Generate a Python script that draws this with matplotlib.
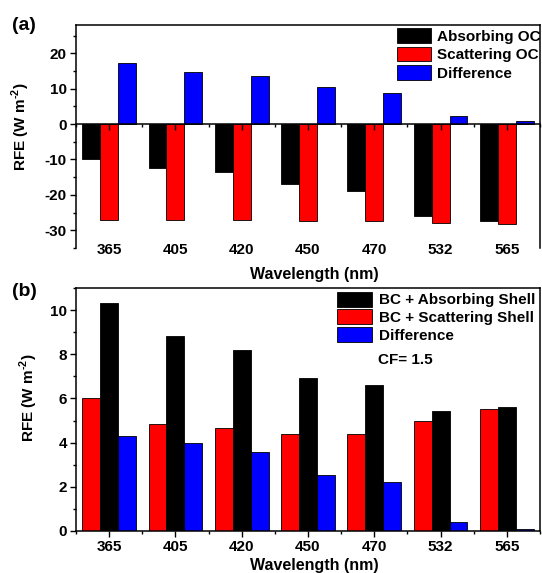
import numpy as np
import matplotlib
matplotlib.use("Agg")
import matplotlib.pyplot as plt
from matplotlib.ticker import MultipleLocator

plt.rcParams['font.family'] = ['Liberation Sans', 'DejaVu Sans']
plt.rcParams['font.weight'] = 'bold'
plt.rcParams['axes.labelweight'] = 'bold'
plt.rcParams['axes.unicode_minus'] = False
plt.rcParams['mathtext.fontset'] = 'custom'
plt.rcParams['mathtext.rm'] = 'Liberation Sans:bold'
plt.rcParams['mathtext.bf'] = 'Liberation Sans:bold'

wavelengths = ["365", "405", "420", "450", "470", "532", "565"]

# panel (a): organic coating
absorbing_oc = [-9.9, -12.4, -13.6, -16.9, -18.8, -25.9, -27.3]
scattering_oc = [-27.1, -27.2, -27.2, -27.4, -27.4, -27.9, -28.1]
diff_a = [17.4, 14.8, 13.6, 10.5, 8.7, 2.2, 0.85]

# panel (b): BC core with shell, CF = 1.5
bc_absorbing = [10.33, 8.85, 8.22, 6.93, 6.63, 5.41, 5.60]
bc_scattering = [6.03, 4.86, 4.64, 4.38, 4.38, 5.00, 5.54]
diff_b = [4.29, 3.96, 3.56, 2.52, 2.22, 0.39, 0.06]

x = np.arange(len(wavelengths))
w = 0.27
ek = dict(edgecolor='black', linewidth=0.6)
ylab = 'RFE (W m$^{\\text{-2}}$)'

fig = plt.figure(figsize=(5.42, 5.73), dpi=100)
axa = fig.add_axes([0.1402, 0.5672, 0.8561, 0.3892])
axb = fig.add_axes([0.1402, 0.0738, 0.8561, 0.4231])

# ---- (a)
ba = axa.bar(x - w, absorbing_oc, w, color='black', label='Absorbing OC', **ek)
bs = axa.bar(x, scattering_oc, w, color='red', label='Scattering OC', **ek)
bd = axa.bar(x + w, diff_a, w, color='blue', label='Difference', **ek)
axa.set_xlim(-0.5, 6.5)
axa.set_ylim(-35, 28)
axa.spines['bottom'].set_position(('data', 0))
axa.spines['bottom'].set_zorder(5)
axa.set_xticks(x)
axa.set_xticklabels([])
axa.xaxis.set_minor_locator(MultipleLocator(1, offset=0.5))
axa.tick_params(axis='x', which='major', direction='out', length=4, width=1)
axa.tick_params(axis='x', which='minor', direction='out', length=2.5, width=1)
sec = axa.secondary_xaxis(0.0)
sec.set_xticks(x, wavelengths)
sec.tick_params(length=0, pad=-3.5, labelsize=11)
sec.spines['bottom'].set_visible(False)
for lab in sec.get_xticklabels():
    lab.set_fontweight('bold')
axa.yaxis.set_major_locator(MultipleLocator(10))
axa.yaxis.set_minor_locator(MultipleLocator(5))
axa.tick_params(axis='y', which='major', direction='out', length=4, width=1, pad=2.5, labelsize=11)
axa.tick_params(axis='y', which='minor', direction='out', length=2.5, width=1)
axa.set_ylabel(ylab, fontsize=11)
axa.yaxis.set_label_coords(-0.095, 0.544)
axa.set_xlabel('Wavelength (nm)', fontsize=11.5)
axa.xaxis.set_label_coords(0.514, -0.084)
for sp in axa.spines.values():
    sp.set_linewidth(1.1)
axa.legend(handles=[ba, bs, bd], loc='upper left', bbox_to_anchor=(0.733, 0.951),
           bbox_transform=fig.transFigure, frameon=False, borderpad=0, borderaxespad=0,
           handlelength=2.2, handleheight=1.1, labelspacing=0.2, handletextpad=0.4,
           prop={'weight': 'bold', 'size': 11})

# ---- (b)
cs = axb.bar(x - w, bc_scattering, w, color='red', label='BC + Scattering Shell', **ek)
ca = axb.bar(x, bc_absorbing, w, color='black', label='BC + Absorbing Shell', **ek)
cd = axb.bar(x + w, diff_b, w, color='blue', label='Difference', **ek)
axb.set_xlim(-0.5, 6.5)
axb.set_ylim(0, 11)
axb.set_xticks(x, wavelengths)
axb.xaxis.set_minor_locator(MultipleLocator(1, offset=0.5))
axb.tick_params(axis='x', which='major', direction='out', length=4, width=1, labelsize=11, pad=3)
axb.tick_params(axis='x', which='minor', direction='out', length=2.5, width=1)
axb.yaxis.set_major_locator(MultipleLocator(2))
axb.yaxis.set_minor_locator(MultipleLocator(1))
axb.tick_params(axis='y', which='major', direction='out', length=4, width=1, pad=2.5, labelsize=11)
axb.tick_params(axis='y', which='minor', direction='out', length=2.5, width=1)
axb.set_ylabel(ylab, fontsize=11)
axb.yaxis.set_label_coords(-0.078, 0.549)
axb.set_xlabel('Wavelength (nm)', fontsize=11.5)
axb.xaxis.set_label_coords(0.514, -0.112)
for sp in axb.spines.values():
    sp.set_linewidth(1.1)
axb.legend(handles=[ca, cs, cd], loc='upper left', bbox_to_anchor=(0.621, 0.491),
           bbox_transform=fig.transFigure, frameon=False, borderpad=0, borderaxespad=0,
           handlelength=2.3, handleheight=1.15, labelspacing=0.12, handletextpad=0.45,
           prop={'weight': 'bold', 'size': 11})
fig.text(378 / 542, 1 - 360 / 573, 'CF= 1.5', fontsize=11, fontweight='bold',
         ha='left', va='center')

fig.text(24 / 542, 1 - 26 / 573, '(a)', fontsize=14, fontweight='bold', ha='center', va='center')
fig.text(24 / 542, 1 - 291 / 573, '(b)', fontsize=14, fontweight='bold', ha='center', va='center')

fig.savefig('out.png', dpi=100)
